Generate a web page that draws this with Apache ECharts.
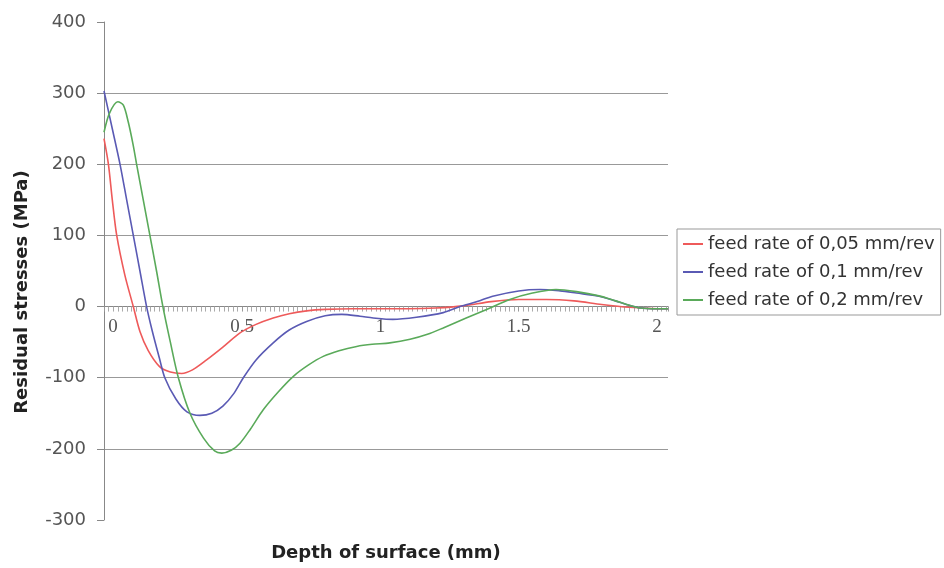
<!DOCTYPE html>
<html>
<head>
<meta charset="utf-8">
<script src="https://cdn.jsdelivr.net/npm/echarts@6/dist/echarts.min.js"></script>
<style>
html,body{margin:0;padding:0;background:#fff;}
#chart{width:944px;height:568px;}
</style>
</head>
<body>
<div id="chart"></div>
<script>
// Depth (mm) and residual stress (MPa)
const seriesNames = ['feed rate of 0,05 mm/rev', 'feed rate of 0,1 mm/rev', 'feed rate of 0,2 mm/rev'];

const redX = [0, 0.016, 0.03, 0.046, 0.075, 0.106, 0.13, 0.16, 0.2, 0.24, 0.281, 0.32, 0.371, 0.43, 0.492, 0.55, 0.612, 0.67, 0.733, 0.8, 0.9, 1.0, 1.1, 1.2, 1.3, 1.4, 1.5, 1.6, 1.7, 1.8, 1.9, 2.0, 2.04];
const redY = [236, 200, 150, 100, 45, 0, -35, -62, -84, -92, -94, -89, -75, -57, -37, -25, -16, -10, -6, -4, -3, -3, -3, -2, 1, 7, 10, 10, 8, 3, -1, -3, -3];

const blueX = [0, 0.03, 0.058, 0.082, 0.106, 0.13, 0.154, 0.175, 0.2, 0.22, 0.26, 0.3, 0.347, 0.39, 0.43, 0.47, 0.504, 0.55, 0.612, 0.67, 0.733, 0.8, 0.86, 0.926, 0.974, 1.045, 1.13, 1.227, 1.288, 1.35, 1.406, 1.5, 1.577, 1.65, 1.709, 1.79, 1.85, 1.89, 1.94, 2.0, 2.04];
const blueY = [303, 250, 200, 150, 100, 50, 0, -35, -72, -100, -130, -148, -153, -150, -140, -122, -100, -75, -51, -33, -21, -13, -11, -13.6, -16, -18, -15, -8.5, 0, 7, 14.6, 22, 24, 22, 19, 14.6, 8, 3, -2, -3, -3];

const greenX = [0, 0.02, 0.05, 0.07, 0.088, 0.105, 0.118, 0.142, 0.166, 0.19, 0.213, 0.24, 0.269, 0.311, 0.36, 0.4, 0.426, 0.46, 0.492, 0.53, 0.576, 0.63, 0.685, 0.74, 0.793, 0.85, 0.914, 0.97, 1.034, 1.107, 1.17, 1.227, 1.31, 1.384, 1.468, 1.55, 1.635, 1.709, 1.79, 1.85, 1.89, 1.94, 2.0, 2.04];
const greenY = [245, 272, 288, 283, 259, 228, 200, 150, 100, 50, 0, -50, -100, -150, -185, -203, -206, -202, -192, -172, -145, -120, -98, -82, -70, -62, -56, -53, -51, -46, -39, -30, -16, -4, 10, 19, 24, 21, 15, 8, 3, -2, -3, -3];

const xTickLabels = [0, 0.5, 1, 1.5, 2];
const yTicks = { min: -300, max: 400, step: 100 };

function pairs(xs, ys) { return xs.map((x, i) => [x, ys[i]]); }

const colors = ['#ee5a5a', '#5a5ab4', '#5aaa5a'];
const datasets = [pairs(redX, redY), pairs(blueX, blueY), pairs(greenX, greenY)];

const chart = echarts.init(document.getElementById('chart'), null, { renderer: 'canvas' });
chart.setOption({
  backgroundColor: '#ffffff',
  animation: false,
  grid: { left: 104, right: 276, top: 22, bottom: 48, containLabel: false, outerBoundsMode: 'none' },
  legend: {
    orient: 'vertical',
    left: 677,
    top: 229,
    padding: [6, 6, 6, 6],
    itemGap: 10,
    itemWidth: 20,
    itemHeight: 2,
    icon: 'rect',
    borderColor: '#999',
    borderWidth: 1,
    textStyle: { fontFamily: 'DejaVu Sans', fontSize: 18, color: '#333' },
    data: seriesNames
  },
  xAxis: {
    type: 'value',
    min: 0,
    max: 2.04,
    interval: 0.5,
    name: 'Depth of surface (mm)',
    nameLocation: 'middle',
    nameGap: 24,
    nameTextStyle: { fontFamily: 'DejaVu Sans', fontWeight: 'bold', fontSize: 18, color: '#222' },
    axisLine: { onZero: true, lineStyle: { color: '#888', width: 1 } },
    axisTick: { show: true, length: 5, lineStyle: { color: '#999' } },
    minorTick: { show: true, splitNumber: 30, length: 5, lineStyle: { color: '#aaa' } },
    splitLine: { show: false },
    axisLabel: {
      showMaxLabel: false,
      margin: -202,
      color: '#555',
      fontFamily: 'Liberation Serif',
      fontSize: 19,
      formatter: function (v) {
        const hit = xTickLabels.find(t => Math.abs(v - t) < 1e-9);
        if (hit === undefined) return '';
        if (hit === 0) return '{z|0}';
        return String(hit);
      },
      rich: { z: { fontFamily: 'Liberation Serif', fontSize: 19, color: '#555', padding: [0, 0, 0, 18] } }
    }
  },
  yAxis: {
    type: 'value',
    min: yTicks.min,
    max: yTicks.max,
    interval: yTicks.step,
    name: 'Residual stresses (MPa)',
    nameLocation: 'middle',
    nameGap: 73,
    nameRotate: 90,
    nameTextStyle: { fontFamily: 'DejaVu Sans', fontWeight: 'bold', fontSize: 18, color: '#222', padding: [0, 42, 0, 0] },
    axisLine: { show: true, lineStyle: { color: '#888', width: 1 } },
    axisTick: { show: true, length: 7, lineStyle: { color: '#888' } },
    axisLabel: { margin: 18, color: '#555', fontFamily: 'DejaVu Sans', fontSize: 18 },
    splitLine: { show: true, showMinLine: false, showMaxLine: false, lineStyle: { color: '#999', width: 1 } }
  },
  series: datasets.map((d, i) => ({
    name: seriesNames[i],
    type: 'line',
    data: d,
    smooth: 0.3,
    showSymbol: false,
    symbol: 'none',
    lineStyle: { color: colors[i], width: 1.6 },
    itemStyle: { color: colors[i] },
    z: 3 + i
  }))
});
</script>
</body>
</html>
